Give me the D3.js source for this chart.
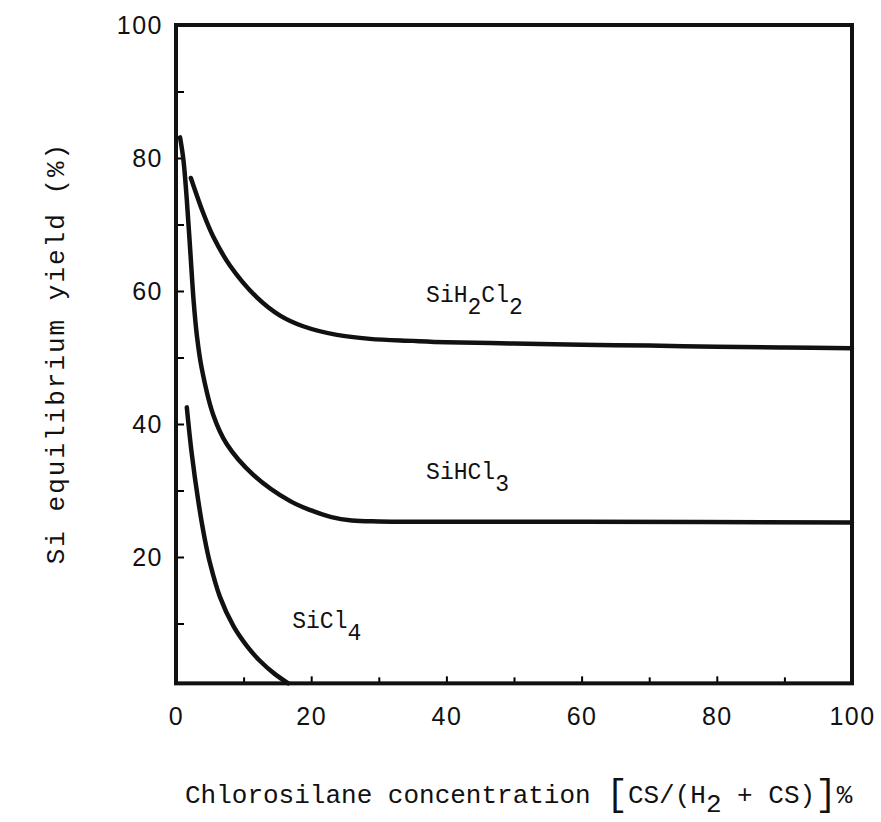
<!DOCTYPE html>
<html>
<head>
<meta charset="utf-8">
<script src="https://cdn.jsdelivr.net/npm/d3@7"></script>
<style>
  body { margin: 0; background: #fff; }
  svg { display: block; }
</style>
</head>
<body>
<svg id="svg-main" width="881" height="822"></svg>
<script>
// values
var sih2cl2X = [2.2, 4, 5.5, 8, 12, 15.4, 18.8, 23.8, 28.7, 35, 40, 50, 60, 70, 80, 90, 100];
var sih2cl2Y = [77, 71.8, 68.2, 63.8, 59, 56.3, 54.7, 53.4, 52.8, 52.5, 52.3, 52.1, 51.9, 51.8, 51.6, 51.5, 51.4];

var sihcl3X = [0.6, 1.1, 1.6, 2.1, 2.6, 3.1, 3.8, 5.5, 7.5, 11.4, 16.9, 20, 23, 26, 30, 40, 60, 100];
var sihcl3Y = [83.1, 79.7, 73.7, 66.2, 58.6, 53.2, 48.4, 41.4, 37.0, 32.4, 28.4, 27.0, 26.0, 25.5, 25.35, 25.3, 25.3, 25.2];

var sicl4X = [1.6, 2.3, 3.3, 4.2, 5.0, 6.5, 8.5, 10.5, 12.4, 14.5, 16.6];
var sicl4Y = [42.5, 35.8, 28.4, 23.0, 19.2, 14.0, 9.6, 6.6, 4.4, 2.5, 1];

var xTicks = [0, 20, 40, 60, 80, 100];
var yTicks = [20, 40, 60, 80, 100];
var minorTicks = [10, 30, 50, 70, 90];
var yFloor = 1; // the bottom frame sits a bit above zero in the original

var svg = d3.select("#svg-main");

var x = d3.scaleLinear().domain([0, 100]).range([176, 852]);
var y = d3.scaleLinear().domain([0, 100]).range([690, 25]);

var tickFont = "'Liberation Sans', Arial, sans-serif";
var monoFont = "'Liberation Mono', 'Courier New', monospace";

// minor ticks (inside, no labels)
svg.append("g")
    .attr("transform", "translate(0," + y(yFloor) + ")")
    .call(d3.axisBottom(x).tickValues(minorTicks).tickSize(-6).tickFormat(""))
    .call(function(g) { g.select(".domain").remove(); })
    .selectAll("line").attr("stroke-width", 2);

svg.append("g")
    .attr("transform", "translate(" + x(0) + ",0)")
    .call(d3.axisLeft(y).tickValues(minorTicks).tickSize(-8).tickFormat(""))
    .call(function(g) { g.select(".domain").remove(); })
    .selectAll("line").attr("stroke-width", 2);

// major ticks with labels
var xAxis = svg.append("g")
    .attr("transform", "translate(0," + y(yFloor) + ")")
    .call(d3.axisBottom(x).tickValues(xTicks).tickSize(-7).tickPadding(24));
xAxis.select(".domain").remove();
xAxis.selectAll("line").attr("stroke-width", 2);
xAxis.selectAll("text")
    .attr("font-family", tickFont)
    .style("font-size", "25px")
    .style("letter-spacing", "1.5px")
    .attr("fill", "#111");

var yAxis = svg.append("g")
    .attr("transform", "translate(" + x(0) + ",0)")
    .call(d3.axisLeft(y).tickValues(yTicks).tickSize(-8).tickPadding(13));
yAxis.select(".domain").remove();
yAxis.selectAll("line").attr("stroke-width", 2);
yAxis.selectAll("text")
    .attr("font-family", tickFont)
    .style("font-size", "25px")
    .style("letter-spacing", "1.5px")
    .attr("fill", "#111");

// frame
svg.append("rect")
    .attr("x", x(0))
    .attr("y", y(100))
    .attr("width", x(100) - x(0))
    .attr("height", y(yFloor) - y(100))
    .attr("fill", "none")
    .attr("stroke", "#111")
    .attr("stroke-width", 4);

// curves
var line = d3.line()
    .x(function(d) { return x(d[0]); })
    .y(function(d) { return y(d[1]); })
    .curve(d3.curveCatmullRom.alpha(0.5));

[[sih2cl2X, sih2cl2Y], [sihcl3X, sihcl3Y], [sicl4X, sicl4Y]].forEach(function(s) {
    svg.append("path")
        .datum(d3.zip(s[0], s[1]))
        .attr("d", line)
        .attr("fill", "none")
        .attr("stroke", "#111")
        .attr("stroke-width", 4.5)
        .attr("stroke-linecap", "round");
});

// curve labels
function label(parts, lx, ly) {
    var t = svg.append("text")
        .attr("x", x(lx))
        .attr("y", y(ly))
        .attr("font-family", monoFont)
        .style("font-size", "23px")
        .attr("fill", "#111");
    var shift = 0;
    parts.forEach(function(p) {
        var dy = p.sub ? 12 - shift : -shift;
        shift = p.sub ? 12 : 0;
        t.append("tspan").attr("dy", dy).text(p.t);
    });
}

label([{t: "SiH"}, {t: "2", sub: true}, {t: "Cl"}, {t: "2", sub: true}], 37, 58.4);
label([{t: "SiHCl"}, {t: "3", sub: true}], 37, 31.8);
label([{t: "SiCl"}, {t: "4", sub: true}], 17.2, 9.3);

// axis titles
var xt = svg.append("text")
    .attr("x", 185)
    .attr("y", 803)
    .attr("font-family", monoFont)
    .style("font-size", "26px")
    .attr("fill", "#111");
xt.append("tspan").text("Chlorosilane concentration ");
xt.append("tspan").style("font-size", "36px").attr("dy", 2).text("[");
xt.append("tspan").attr("dy", -2).text("CS/(H");
xt.append("tspan").attr("dy", 9).text("2");
xt.append("tspan").attr("dy", -9).text(" + CS)");
xt.append("tspan").style("font-size", "36px").attr("dy", 2).text("]");
xt.append("tspan").attr("dy", -2).text("%");

svg.append("text")
    .attr("transform", "translate(64,353) rotate(-90)")
    .attr("text-anchor", "middle")
    .attr("font-family", monoFont)
    .style("font-size", "26px")
    .style("letter-spacing", "2px")
    .attr("fill", "#111")
    .text("Si equilibrium yield (%)");
</script>
</body>
</html>
